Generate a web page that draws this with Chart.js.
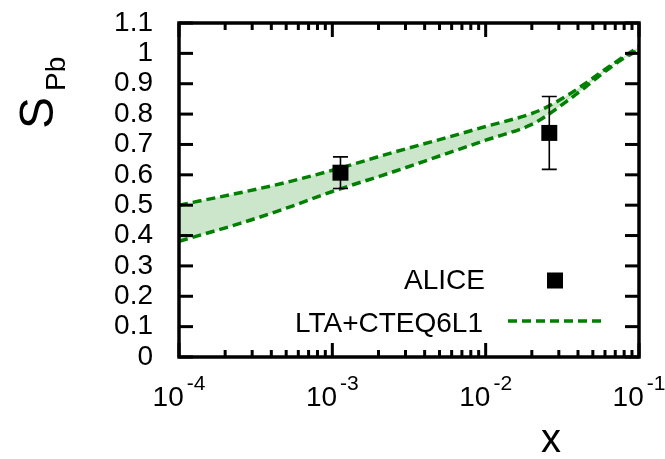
<!DOCTYPE html>
<html>
<head>
<meta charset="utf-8">
<script src="https://cdn.jsdelivr.net/npm/chart.js@4/dist/chart.umd.min.js"></script>
<style>
  html, body { margin: 0; padding: 0; background: #fff; }
  #chart { display: block; }
</style>
</head>
<body>
<canvas id="chart" width="665" height="459"></canvas>
<script>
// LTA+CTEQ6L1 band: upper and lower edges vs x
const bandX = [1e-4, 2.5e-4, 5e-4, 1e-3, 2.5e-3, 5e-3, 1e-2, 2e-2, 2.5e-2, 3.5e-2, 4.5e-2, 6e-2, 8e-2, 1e-1];
const bandUpper = [0.500, 0.541, 0.575, 0.615, 0.674, 0.716, 0.759, 0.802, 0.823, 0.865, 0.902, 0.947, 0.990, 1.022];
const bandLower = [0.381, 0.440, 0.490, 0.545, 0.610, 0.662, 0.714, 0.766, 0.795, 0.848, 0.890, 0.940, 0.985, 1.012];

// ALICE points with symmetric errors
const aliceX = [1.13e-3, 2.6e-2];
const aliceY = [0.607, 0.738];
const aliceErr = [0.052, 0.120];

const yTickLabels = ['0', '0.1', '0.2', '0.3', '0.4', '0.5', '0.6', '0.7', '0.8', '0.9', '1', '1.1'];
const xDecades = [1e-4, 1e-3, 1e-2, 1e-1];
const xExponents = ['-4', '-3', '-2', '-1'];

const FONT = '"Liberation Sans", Arial, Helvetica, sans-serif';
const GREEN = '#008000';

const toPoints = (xs, ys) => xs.map((x, i) => ({x: x, y: ys[i]}));

// gnuplot-like frame: inward ticks on all sides, superscript decade labels,
// axis titles, error bars and a key in the lower right
const gnuplotFrame = {
  id: 'gnuplotFrame',
  afterDatasetsDraw(chart) {
    const ctx = chart.ctx;
    const x = chart.scales.x, y = chart.scales.y;
    ctx.save();
    ctx.strokeStyle = '#000';
    ctx.lineWidth = 1.6;
    ctx.setLineDash([]);
    const cap = 7.5;
    aliceX.forEach((xv, i) => {
      const px = x.getPixelForValue(xv);
      const top = y.getPixelForValue(aliceY[i] + aliceErr[i]);
      const bot = y.getPixelForValue(aliceY[i] - aliceErr[i]);
      ctx.beginPath();
      ctx.moveTo(px, top); ctx.lineTo(px, bot);
      ctx.moveTo(px - cap, top); ctx.lineTo(px + cap, top);
      ctx.moveTo(px - cap, bot); ctx.lineTo(px + cap, bot);
      ctx.stroke();
    });
    ctx.restore();
  },
  afterDraw(chart) {
    const ctx = chart.ctx;
    const a = chart.chartArea;
    const x = chart.scales.x, y = chart.scales.y;
    ctx.save();
    ctx.setLineDash([]);
    ctx.fillStyle = '#000';
    ctx.strokeStyle = '#000';

    // inward ticks, drawn as thin filled bars
    const major = 14, minor = 7, tw = 3;
    y.ticks.forEach(t => {
      const py = y.getPixelForValue(t.value);
      ctx.fillRect(a.left, py - tw / 2, major, tw);
      ctx.fillRect(a.right - major, py - tw / 2, major, tw);
    });
    xDecades.forEach((d, i) => {
      const px = x.getPixelForValue(d);
      ctx.fillRect(px - tw / 2, a.bottom - major, tw, major);
      ctx.fillRect(px - tw / 2, a.top, tw, major);
      if (i < xDecades.length - 1) {
        for (let m = 2; m <= 9; m++) {
          const pm = x.getPixelForValue(d * m);
          ctx.fillRect(pm - tw / 2, a.bottom - minor, tw, minor);
          ctx.fillRect(pm - tw / 2, a.top, tw, minor);
        }
      }
    });

    // border
    ctx.lineWidth = 3.5;
    ctx.strokeRect(a.left, a.top, a.right - a.left, a.bottom - a.top);

    // x tick labels: 10^n
    ctx.textBaseline = 'alphabetic';
    ctx.textAlign = 'left';
    xDecades.forEach((d, i) => {
      const px = x.getPixelForValue(d);
      ctx.font = '28px ' + FONT;
      const wBase = ctx.measureText('10').width;
      ctx.font = '21px ' + FONT;
      const wSup = ctx.measureText(xExponents[i]).width;
      const start = px - (wBase + 3 + wSup) / 2;
      ctx.font = '28px ' + FONT;
      ctx.fillText('10', start, 406);
      ctx.font = '21px ' + FONT;
      ctx.fillText(xExponents[i], start + wBase + 3, 390);
    });

    // axis titles
    ctx.font = '40px ' + FONT;
    ctx.textAlign = 'center';
    ctx.fillText('x', 551, 452);

    ctx.save();
    ctx.translate(53, 129);
    ctx.rotate(-Math.PI / 2);
    ctx.textAlign = 'left';
    ctx.font = '48px ' + FONT;
    ctx.fillText('S', 0, 0);
    ctx.font = '28px ' + FONT;
    ctx.fillText('Pb', 38, 12);
    ctx.restore();

    // key
    ctx.font = '28px ' + FONT;
    ctx.textAlign = 'right';
    ctx.fillText('ALICE', 485, 289);
    ctx.fillText('LTA+CTEQ6L1', 483, 332);
    ctx.fillRect(547, 272.5, 16, 16);
    ctx.strokeStyle = GREEN;
    ctx.lineWidth = 3.5;
    ctx.setLineDash([9, 5]);
    ctx.beginPath();
    ctx.moveTo(508, 321); ctx.lineTo(602, 321);
    ctx.stroke();
    ctx.restore();
  }
};

new Chart(document.getElementById('chart'), {
  type: 'line',
  data: {
    datasets: [
      {
        label: 'LTA+CTEQ6L1 upper',
        data: toPoints(bandX, bandUpper),
        borderColor: GREEN,
        borderWidth: 3.5,
        borderDash: [9, 5],
        backgroundColor: 'rgba(0, 128, 0, 0.2)',
        fill: '+1',
        pointRadius: 0,
        cubicInterpolationMode: 'monotone'
      },
      {
        label: 'LTA+CTEQ6L1 lower',
        data: toPoints(bandX, bandLower),
        borderColor: GREEN,
        borderWidth: 3.5,
        borderDash: [9, 5],
        fill: false,
        pointRadius: 0,
        cubicInterpolationMode: 'monotone'
      },
      {
        label: 'ALICE',
        data: toPoints(aliceX, aliceY),
        showLine: false,
        pointStyle: 'rect',
        pointRadius: 11.3,
        pointBackgroundColor: '#000',
        pointBorderWidth: 0,
        order: -1
      }
    ]
  },
  options: {
    responsive: false,
    animation: false,
    events: [],
    layout: { padding: { top: 23, right: 26, left: 0, bottom: 0 } },
    scales: {
      x: {
        type: 'logarithmic',
        min: 1e-4,
        max: 1e-1,
        grid: { display: false, drawTicks: false },
        border: { display: false },
        ticks: { display: false },
        afterFit: s => {
          s.height = 102;
          s.paddingLeft = 0;
          s.paddingRight = 0;
        }
      },
      y: {
        min: 0,
        max: 1.1,
        grid: { display: false, drawTicks: false },
        border: { display: false },
        ticks: {
          stepSize: 0.1,
          autoSkip: false,
          padding: 26,
          color: '#000',
          font: { family: FONT, size: 28 },
          callback: (v, i) => yTickLabels[i]
        },
        afterFit: s => {
          s.width = 179;
          s.paddingTop = 0;
          s.paddingBottom = 0;
        }
      }
    },
    plugins: {
      legend: { display: false },
      tooltip: { enabled: false }
    }
  },
  plugins: [gnuplotFrame]
});
</script>
</body>
</html>
